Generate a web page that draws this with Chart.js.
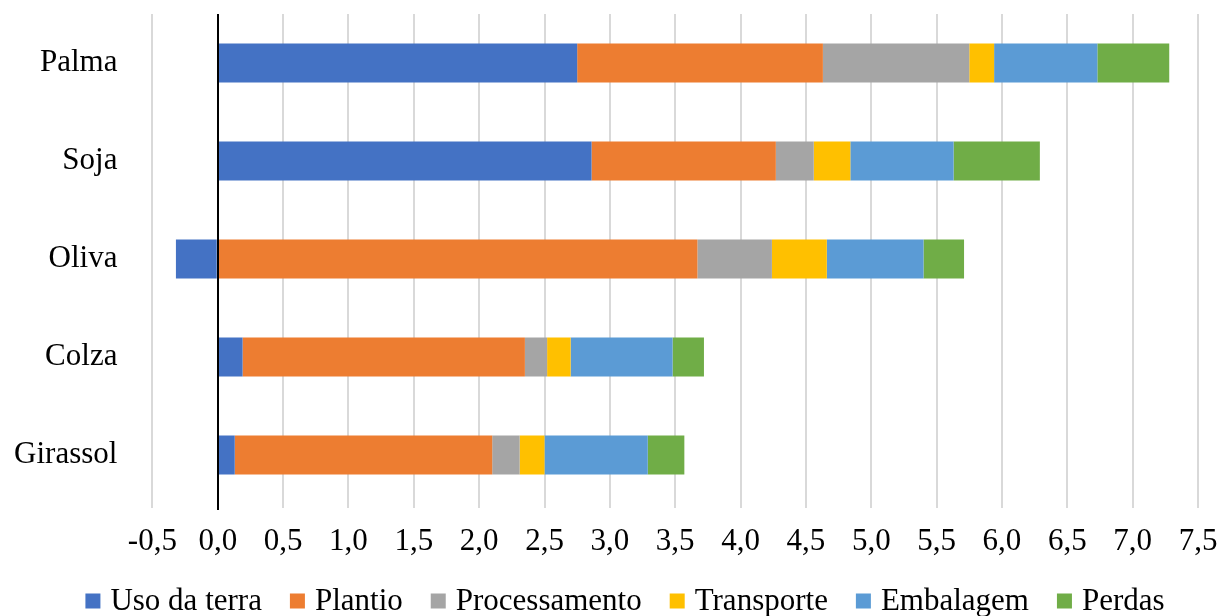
<!DOCTYPE html>
<html>
<head>
<meta charset="utf-8">
<script src="https://cdn.jsdelivr.net/npm/chart.js@4/dist/chart.umd.min.js"></script>
<style>
  html, body { margin: 0; padding: 0; background: #fff; }
  #wrap { width: 1220px; height: 616px; position: relative; }
</style>
</head>
<body>
<div id="wrap"><canvas id="c" width="1220" height="616"></canvas></div>
<script>
// Culturas (eixo vertical)
const categories = ['Palma', 'Soja', 'Oliva', 'Colza', 'Girassol'];

// Contribuição de cada etapa, por cultura
const usoDaTerra    = [2.75, 2.86, -0.32, 0.19, 0.13];
const plantio       = [1.88, 1.41, 3.67, 2.16, 1.97];
const processamento = [1.12, 0.29, 0.57, 0.17, 0.21];
const transporte    = [0.19, 0.28, 0.42, 0.18, 0.19];
const embalagem     = [0.79, 0.79, 0.74, 0.78, 0.79];
const perdas        = [0.55, 0.66, 0.31, 0.24, 0.28];

// Marcas do eixo horizontal
const xTickValues = [-0.5, 0, 0.5, 1, 1.5, 2, 2.5, 3, 3.5, 4, 4.5, 5, 5.5, 6, 6.5, 7, 7.5];
const xTickLabels = ['-0,5', '0,0', '0,5', '1,0', '1,5', '2,0', '2,5', '3,0', '3,5',
                     '4,0', '4,5', '5,0', '5,5', '6,0', '6,5', '7,0', '7,5'];

const seriesNames  = ['Uso da terra', 'Plantio', 'Processamento', 'Transporte', 'Embalagem', 'Perdas'];
const seriesValues = [usoDaTerra, plantio, processamento, transporte, embalagem, perdas];
const seriesColors = ['#4472C4', '#ED7D31', '#A5A5A5', '#FFC000', '#5B9BD5', '#70AD47'];

const FONT = 'Liberation Serif, Times New Roman, serif';
const FONT_SIZE = 31;

// Linha vertical do zero, desenhada por cima das barras
const zeroLine = {
  id: 'zeroLine',
  afterDatasetsDraw(chart) {
    const x = chart.scales.x;
    const px = Math.round(x.getPixelForValue(0));
    const ctx = chart.ctx;
    ctx.save();
    ctx.strokeStyle = '#000';
    ctx.lineWidth = 2;
    ctx.beginPath();
    ctx.moveTo(px, chart.chartArea.top);
    ctx.lineTo(px, chart.chartArea.bottom + 6);
    ctx.stroke();
    ctx.restore();
  }
};

// Legenda em linha única, abaixo do eixo
const bottomLegend = {
  id: 'bottomLegend',
  afterDraw(chart) {
    const ctx = chart.ctx;
    const box = 15, gapText = 10, gapItem = 28, cy = 601, centerX = 625;
    ctx.save();
    ctx.font = FONT_SIZE + 'px ' + FONT;
    ctx.textBaseline = 'middle';
    ctx.textAlign = 'left';
    const items = chart.data.datasets.map(d => ({
      text: d.label, color: d.backgroundColor, w: ctx.measureText(d.label).width
    }));
    const total = items.reduce((s, it) => s + box + gapText + it.w, 0) + gapItem * (items.length - 1);
    let x = centerX - total / 2;
    items.forEach(it => {
      ctx.fillStyle = it.color;
      ctx.fillRect(x, cy - box / 2, box, box);
      ctx.fillStyle = '#000';
      ctx.fillText(it.text, x + box + gapText, cy + 1);
      x += box + gapText + it.w + gapItem;
    });
    ctx.restore();
  }
};

new Chart(document.getElementById('c'), {
  type: 'bar',
  data: {
    labels: categories,
    datasets: seriesNames.map((name, i) => ({
      label: name,
      data: seriesValues[i],
      backgroundColor: seriesColors[i],
      borderWidth: 0,
      categoryPercentage: 0.4,
      barPercentage: 1.0
    }))
  },
  options: {
    indexAxis: 'y',
    responsive: false,
    animation: false,
    devicePixelRatio: 1,
    layout: { padding: { left: 10, right: 22, top: 14, bottom: 0 } },
    plugins: {
      legend: { display: false },
      tooltip: { enabled: false }
    },
    scales: {
      x: {
        stacked: true,
        min: -0.5,
        max: 7.5,
        afterBuildTicks(scale) {
          scale.ticks = xTickValues.map(v => ({ value: v }));
        },
        afterFit(scale) {
          scale.height = 112;
          scale.paddingLeft = 0;
          scale.paddingRight = 0;
        },
        border: { display: false },
        grid: {
          color: '#d9d9d9',
          lineWidth: 2,
          drawTicks: true,
          tickLength: 4
        },
        ticks: {
          autoSkip: false,
          maxRotation: 0,
          padding: 15,
          color: '#000',
          font: { family: FONT, size: FONT_SIZE },
          callback: (v, i) => xTickLabels[i]
        }
      },
      y: {
        stacked: true,
        afterFit(scale) {
          scale.width = 142.4;
          scale.paddingTop = 0;
          scale.paddingBottom = 0;
        },
        border: { display: false },
        grid: { display: false, drawTicks: false },
        ticks: {
          padding: 35,
          color: '#000',
          font: { family: FONT, size: FONT_SIZE }
        }
      }
    }
  },
  plugins: [zeroLine, bottomLegend]
});
</script>
</body>
</html>
